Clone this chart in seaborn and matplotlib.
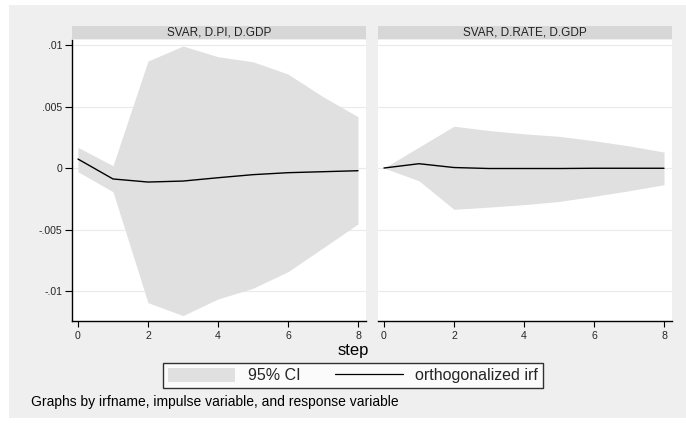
import numpy as np
import pandas as pd
import matplotlib
matplotlib.use("Agg")
import matplotlib.pyplot as plt
from matplotlib.patches import Rectangle, Patch
from matplotlib.lines import Line2D
import seaborn as sns

# ---- data ----
steps = [0, 1, 2, 3, 4, 5, 6, 7, 8]
panel_titles = ["SVAR, D.PI, D.GDP", "SVAR, D.RATE, D.GDP"]

irf_pi = [0.00073, -0.00089, -0.00114, -0.00106, -0.00079, -0.00054, -0.00038, -0.00030, -0.00022]
lo_pi = [-0.00030, -0.00193, -0.01095, -0.01200, -0.01065, -0.00978, -0.00843, -0.00650, -0.00455]
hi_pi = [0.00168, 0.00019, 0.00870, 0.00992, 0.00905, 0.00864, 0.00764, 0.00580, 0.00417]

irf_rate = [0.0, 0.00035, 0.00004, -0.00004, -0.00004, -0.00004, -0.00002, -0.00002, -0.00002]
lo_rate = [0.0, -0.00104, -0.00336, -0.00318, -0.00298, -0.00272, -0.00230, -0.00185, -0.00136]
hi_rate = [0.0, 0.00170, 0.00340, 0.00305, 0.00278, 0.00258, 0.00222, 0.00180, 0.00130]

ytick_vals = [-0.01, -0.005, 0, 0.005, 0.01]
ytick_labels = ["-.01", "-.005", "0", ".005", ".01"]
xtick_vals = [0, 2, 4, 6, 8]

df = pd.concat([
    pd.DataFrame({"step": steps, "irf": irf_pi, "lo": lo_pi, "hi": hi_pi, "panel": panel_titles[0]}),
    pd.DataFrame({"step": steps, "irf": irf_rate, "lo": lo_rate, "hi": hi_rate, "panel": panel_titles[1]}),
])

sns.set_theme(style="white")
plt.rcParams["font.family"] = ["Liberation Sans", "DejaVu Sans"]

W, H = 686, 423
fig = plt.figure(figsize=(W / 100, H / 100), dpi=100, facecolor="white")

# outer gray graph region
fig.patches.append(Rectangle((9 / W, 1 - 418 / H), (686 - 9) / W, (418 - 5) / H,
                             transform=fig.transFigure, facecolor="#efefef",
                             edgecolor="none", zorder=-10))

ci_col = "#e0e0e0"
strip_col = "#d7d7d7"
grid_col = "#eaeaea"

lefts = [72, 378]
right_w = 294
top_px, bot_px = 40, 321
axes = []
for i, (lp, title) in enumerate(zip(lefts, panel_titles)):
    ax = fig.add_axes([lp / W, 1 - bot_px / H, right_w / W, (bot_px - top_px) / H])
    ax.set_zorder(1)
    ax.set_facecolor("white")
    sub = df[df["panel"] == title]
    ax.fill_between(sub["step"], sub["lo"], sub["hi"], color=ci_col, linewidth=0, zorder=2)
    sns.lineplot(data=sub, x="step", y="irf", ax=ax, color="black", linewidth=1.0, zorder=3)
    ax.set_xlim(-0.171, 8.229)
    ax.set_ylim(-0.01244, 0.01041)
    for yv in ytick_vals:
        ax.axhline(yv, color=grid_col, linewidth=0.8, zorder=1)
    ax.set_xticks(xtick_vals)
    ax.set_xticklabels([str(v) for v in xtick_vals], fontsize=7.6)
    ax.set_xlabel("")
    ax.set_ylabel("")
    for s in ["top", "right"]:
        ax.spines[s].set_visible(False)
    ax.spines["bottom"].set_color("black")
    ax.spines["bottom"].set_linewidth(1.0)
    ax.tick_params(axis="x", length=4, width=0.8, color="black", pad=3, direction="out", bottom=True)
    if i == 0:
        ax.set_yticks(ytick_vals)
        ax.set_yticklabels(ytick_labels, fontsize=7.6)
        ax.spines["left"].set_color("black")
        ax.spines["left"].set_linewidth(1.0)
        ax.tick_params(axis="y", length=5, width=0.8, color="black", pad=2, direction="out", left=True)
    else:
        ax.set_yticks([])
        ax.spines["left"].set_visible(False)
    # strip title
    fig.patches.append(Rectangle((lp / W, 1 - 39 / H), right_w / W, 13 / H,
                                 transform=fig.transFigure, facecolor=strip_col,
                                 edgecolor="none", zorder=1))
    fig.text((lp + right_w / 2) / W, 1 - 32.5 / H, title, ha="center", va="center",
             fontsize=8.5, color="#222222")
    axes.append(ax)

fig.text(353 / W, 1 - 350 / H, "step", ha="center", va="center", fontsize=12, color="black")

handles = [Patch(facecolor=ci_col, edgecolor="none"),
           Line2D([0], [0], color="black", linewidth=0.9)]
leg = fig.legend(handles, ["95% CI", "orthogonalized irf"], loc="center",
                 bbox_to_anchor=(353 / W, 1 - 375.5 / H), ncol=2, fontsize=11.5,
                 frameon=True, fancybox=False, edgecolor="black", facecolor="white",
                 handlelength=4.2, handleheight=1.0, handletextpad=0.8,
                 columnspacing=2.2, borderpad=0.3, borderaxespad=0)
leg.get_frame().set_linewidth(1.0)

fig.text(31 / W, 1 - 402 / H, "Graphs by irfname, impulse variable, and response variable",
         ha="left", va="center", fontsize=10, color="black")

fig.savefig("out.png", dpi=100, facecolor="white")
